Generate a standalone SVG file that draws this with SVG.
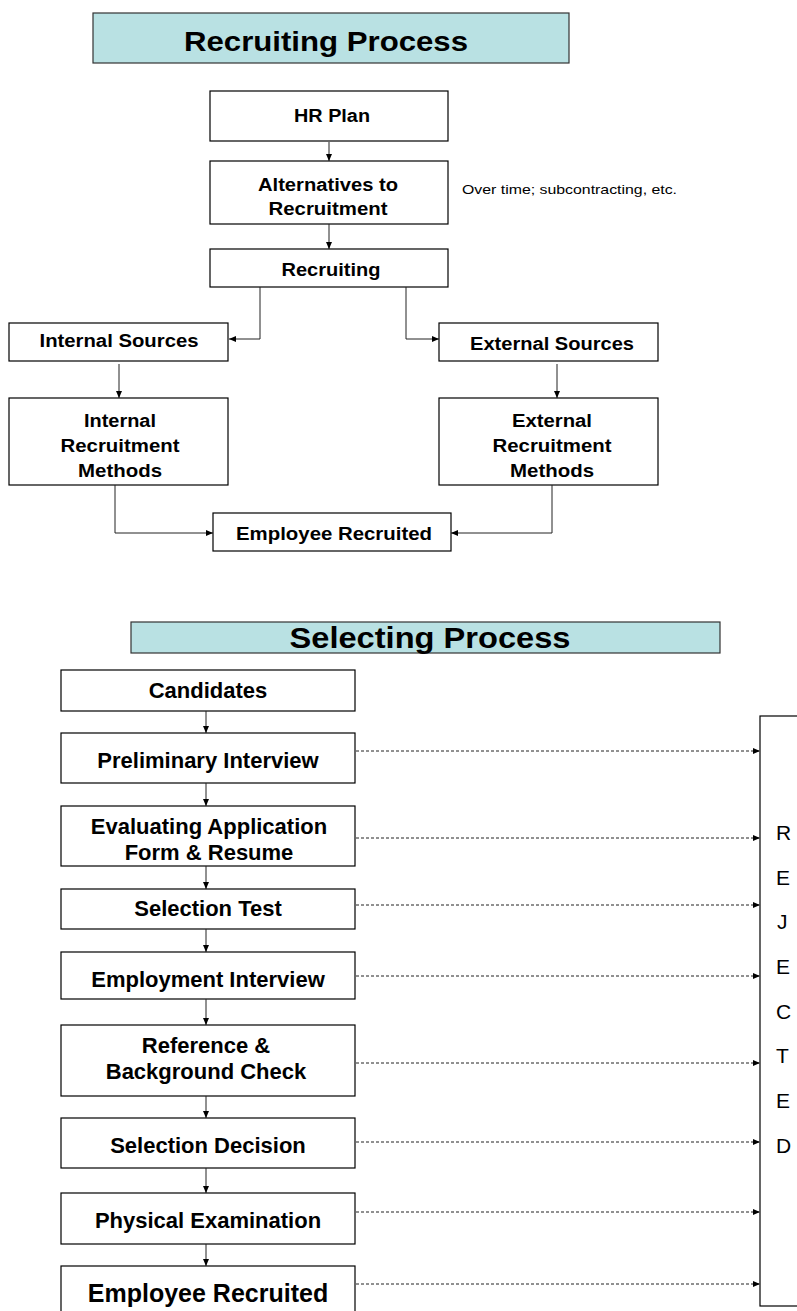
<svg xmlns="http://www.w3.org/2000/svg" width="797" height="1311" viewBox="0 0 797 1311">
  <style>
    .box { fill: #ffffff; stroke: #000000; stroke-width: 1.2; }
    .title { fill: #b9e1e3; stroke: #333333; stroke-width: 1.2; }
    .t { font-family: "Liberation Sans", Arial, sans-serif; font-weight: bold; fill: #000; text-anchor: middle; }
    .s { font-size: 18.7px; }
    .b { font-size: 22px; }
    .note { font-family: "Liberation Sans", Arial, sans-serif; font-size: 13px; fill: #000; }
    .rej { font-family: "Liberation Sans", Arial, sans-serif; font-size: 21px; fill: #000; }
    .link { fill: none; stroke: #222222; stroke-width: 1; marker-end: url(#arrow); }
    .dash { fill: none; stroke: #222222; stroke-width: 1; stroke-dasharray: 3 2; marker-end: url(#arrow); }
  </style>
  <defs>
    <marker id="arrow" markerUnits="userSpaceOnUse" markerWidth="7" markerHeight="7" refX="7" refY="3.5" orient="auto">
      <path d="M0,0.5 L7,3.5 L0,6.5 z" fill="#000"/>
    </marker>
  </defs>
  <rect width="797" height="1311" fill="#ffffff"/>

  <!-- Recruiting process -->
  <g id="title-recruiting">
    <rect class="title" x="93" y="13" width="476" height="50"/>
    <text class="t" x="326" y="51" font-size="28" textLength="284" lengthAdjust="spacingAndGlyphs">Recruiting Process</text>
  </g>
  <g id="hr-plan">
    <rect class="box" x="210" y="91" width="238" height="50"/>
    <text class="t s" x="332" y="122" textLength="76" lengthAdjust="spacingAndGlyphs">HR Plan</text>
  </g>
  <g id="alternatives">
    <rect class="box" x="210" y="161" width="238" height="63"/>
    <text class="t s" x="328" y="191" textLength="140" lengthAdjust="spacingAndGlyphs">Alternatives to</text>
    <text class="t s" x="328" y="215" textLength="119" lengthAdjust="spacingAndGlyphs">Recruitment</text>
  </g>
  <g id="alternatives-note">
    <text class="note" x="462" y="194" textLength="215" lengthAdjust="spacingAndGlyphs">Over time; subcontracting, etc.</text>
  </g>
  <g id="recruiting">
    <rect class="box" x="210" y="249" width="238" height="38"/>
    <text class="t s" x="331" y="276" textLength="99" lengthAdjust="spacingAndGlyphs">Recruiting</text>
  </g>
  <g id="internal-sources">
    <rect class="box" x="9" y="323" width="219" height="38"/>
    <text class="t s" x="119" y="347" textLength="159" lengthAdjust="spacingAndGlyphs">Internal Sources</text>
  </g>
  <g id="external-sources">
    <rect class="box" x="439" y="323" width="219" height="38"/>
    <text class="t s" x="552" y="350" textLength="164" lengthAdjust="spacingAndGlyphs">External Sources</text>
  </g>
  <g id="internal-methods">
    <rect class="box" x="9" y="398" width="219" height="87"/>
    <text class="t s" x="120" y="427" textLength="72" lengthAdjust="spacingAndGlyphs">Internal</text>
    <text class="t s" x="120" y="452" textLength="119" lengthAdjust="spacingAndGlyphs">Recruitment</text>
    <text class="t s" x="120" y="477" textLength="84" lengthAdjust="spacingAndGlyphs">Methods</text>
  </g>
  <g id="external-methods">
    <rect class="box" x="439" y="398" width="219" height="87"/>
    <text class="t s" x="552" y="427" textLength="80" lengthAdjust="spacingAndGlyphs">External</text>
    <text class="t s" x="552" y="452" textLength="119" lengthAdjust="spacingAndGlyphs">Recruitment</text>
    <text class="t s" x="552" y="477" textLength="84" lengthAdjust="spacingAndGlyphs">Methods</text>
  </g>
  <g id="employee-recruited-top">
    <rect class="box" x="213" y="513" width="238" height="38"/>
    <text class="t s" x="334" y="540" textLength="196" lengthAdjust="spacingAndGlyphs">Employee Recruited</text>
  </g>

  <!-- Selecting process -->
  <g id="title-selecting">
    <rect class="title" x="131" y="622" width="589" height="31"/>
    <text class="t" x="430" y="648" font-size="30" textLength="281" lengthAdjust="spacingAndGlyphs">Selecting Process</text>
  </g>
  <g id="candidates">
    <rect class="box" x="61" y="670" width="294" height="41"/>
    <text class="t b" x="208" y="698">Candidates</text>
  </g>
  <g id="preliminary-interview">
    <rect class="box" x="61" y="733" width="294" height="50"/>
    <text class="t b" x="208" y="768">Preliminary Interview</text>
  </g>
  <g id="evaluating-application">
    <rect class="box" x="61" y="806" width="294" height="60"/>
    <text class="t b" x="209" y="834">Evaluating Application</text>
    <text class="t b" x="209" y="860">Form &amp; Resume</text>
  </g>
  <g id="selection-test">
    <rect class="box" x="61" y="889" width="294" height="40"/>
    <text class="t b" x="208" y="916">Selection Test</text>
  </g>
  <g id="employment-interview">
    <rect class="box" x="61" y="952" width="294" height="47"/>
    <text class="t b" x="208" y="987">Employment Interview</text>
  </g>
  <g id="reference-check">
    <rect class="box" x="61" y="1025" width="294" height="71"/>
    <text class="t b" x="206" y="1053">Reference &amp;</text>
    <text class="t b" x="206" y="1079">Background Check</text>
  </g>
  <g id="selection-decision">
    <rect class="box" x="61" y="1118" width="294" height="50"/>
    <text class="t b" x="208" y="1153">Selection Decision</text>
  </g>
  <g id="physical-examination">
    <rect class="box" x="61" y="1193" width="294" height="51"/>
    <text class="t b" x="208" y="1228">Physical Examination</text>
  </g>
  <g id="employee-recruited">
    <rect class="box" x="61" y="1266" width="294" height="60"/>
    <text class="t" x="208" y="1302" font-size="25">Employee Recruited</text>
  </g>
  <g id="rejected">
    <rect class="box" x="760" y="716" width="60" height="590"/>
    <text class="rej" x="776" y="840">R</text>
    <text class="rej" x="776" y="885">E</text>
    <text class="rej" x="777" y="929">J</text>
    <text class="rej" x="776" y="974">E</text>
    <text class="rej" x="776" y="1019">C</text>
    <text class="rej" x="776" y="1063">T</text>
    <text class="rej" x="776" y="1108">E</text>
    <text class="rej" x="776" y="1153">D</text>
  </g>

  <!-- Connectors -->
  <g id="connectors">
    <path class="link" d="M329,142 V161"/>
    <path class="link" d="M329,224 V249"/>
    <path class="link" d="M260,287 V339 H229"/>
    <path class="link" d="M406,287 V339 H439"/>
    <path class="link" d="M119,364 V398"/>
    <path class="link" d="M557,364 V398"/>
    <path class="link" d="M115,485 V533 H213"/>
    <path class="link" d="M552,485 V533 H451"/>

    <path class="link" d="M206,711 V733"/>
    <path class="link" d="M206,783 V806"/>
    <path class="link" d="M206,866 V889"/>
    <path class="link" d="M206,929 V952"/>
    <path class="link" d="M206,999 V1025"/>
    <path class="link" d="M206,1096 V1118"/>
    <path class="link" d="M206,1168 V1193"/>
    <path class="link" d="M206,1244 V1266"/>

    <path class="dash" d="M356,751 H760"/>
    <path class="dash" d="M356,838 H760"/>
    <path class="dash" d="M356,905 H760"/>
    <path class="dash" d="M356,976 H760"/>
    <path class="dash" d="M356,1063 H760"/>
    <path class="dash" d="M356,1142 H760"/>
    <path class="dash" d="M356,1212 H760"/>
    <path class="dash" d="M356,1284 H760"/>
  </g>
</svg>
